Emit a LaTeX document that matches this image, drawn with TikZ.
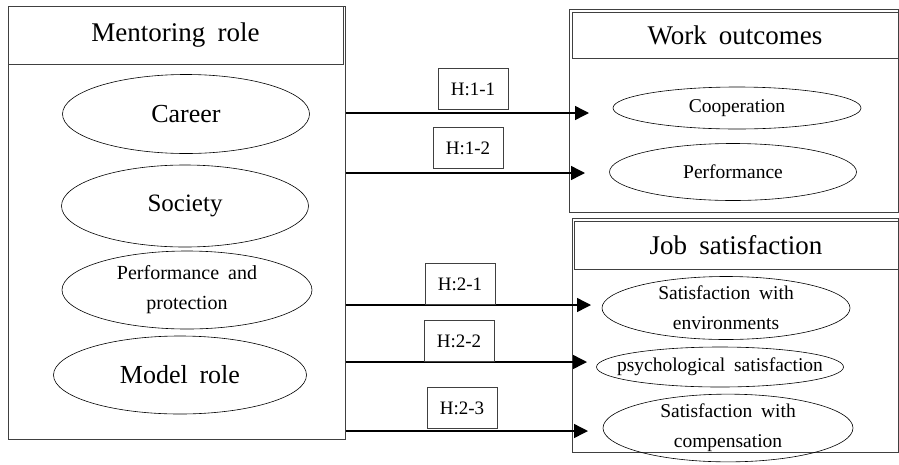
\documentclass[tikz,border=0pt]{standalone}
\usepackage{fontspec}
\setmainfont{Liberation Serif}
\usetikzlibrary{shapes.geometric,arrows.meta}
\newcommand{\widegap}{\spaceskip=0.45em\relax}

\begin{document}
\begin{tikzpicture}[x=1pt, y=-1pt, line width=0.6pt]
\tikzset{
	grpbox/.style={draw=black!75, line width=1pt, inner sep=0pt},
	grptitle/.style={draw=black!75, line width=1pt, inner sep=0pt, font=\fontsize{27}{30}\selectfont\widegap},
	rolenode/.style={draw, ellipse, inner sep=0pt, align=center, minimum width=247pt},
	outnode/.style={draw, ellipse, inner sep=0pt, align=center, minimum width=247pt, font=\fontsize{19.5}{30}\selectfont\widegap},
	hyplabel/.style={draw=black!75, line width=0.8pt, minimum width=70pt, minimum height=41pt, inner sep=0pt, font=\fontsize{19}{20}\selectfont},
	hyp/.style={-{Triangle[length=14pt, width=14pt]}, line width=1.4pt}
}
\useasboundingbox (0,0) rectangle (899,464);

% mentoring role
\node[grpbox, minimum width=337pt, minimum height=433pt] (mentor) at (176.5,222.5) {};
\node[grptitle, minimum width=335pt, minimum height=58pt] (mentortitle) at (175.5,35) {Mentoring role};

\node[rolenode, minimum height=79pt, font=\fontsize{26}{28}\selectfont] (career) at (186,114) {Career};
\node[rolenode, minimum height=82pt, font=\fontsize{25}{28}\selectfont] (society) at (185,206) {Society};
\node[rolenode, minimum width=250pt, minimum height=78pt, font=\fontsize{20}{30}\selectfont\widegap] (perfprot) at (187,290) {Performance and\\protection};
\node[rolenode, minimum width=253pt, minimum height=78pt, font=\fontsize{26}{28}\selectfont\widegap] (model) at (180,375) {Model role};

% work outcomes
\node[grpbox, minimum width=329pt, minimum height=203pt] (work) at (733.5,110.5) {};
\node[grptitle, minimum width=326pt, minimum height=46pt] (worktitle) at (735,35) {Work outcomes};

\node[outnode, minimum width=248pt, minimum height=42pt] (coop) at (737,108) {Cooperation};
\node[outnode, minimum height=57pt] (perf) at (733,172) {Performance};

% job satisfaction
\node[grpbox, minimum width=326pt, minimum height=234pt] (job) at (735,335) {};
\node[grptitle, minimum width=324pt, minimum height=48pt] (jobtitle) at (736,245) {Job satisfaction};

\node[outnode, minimum width=248pt, minimum height=63pt] (envsat) at (726,308) {Satisfaction with\\environments};
\node[outnode, minimum height=40pt, inner xsep=-18pt, inner ysep=-2pt] (psysat) at (720,367) {psychological satisfaction};
\node[outnode, minimum width=250pt, minimum height=64pt] (compsat) at (728,428) {Satisfaction with\\compensation};

% hypotheses
\coordinate (t11) at (589,113);
\coordinate (t12) at (585,173);
\coordinate (t21) at (591,305);
\coordinate (t22) at (587,362);
\coordinate (t23) at (588,431);

\draw[hyp] (mentor.east |- t11) -- (t11);
\draw[hyp] (mentor.east |- t12) -- (t12);
\draw[hyp] (mentor.east |- t21) -- (t21);
\draw[hyp] (mentor.east |- t22) -- (t22);
\draw[hyp] (mentor.east |- t23) -- (t23);

\node[hyplabel] (h11) at (473,89) {H:1-1};
\node[hyplabel] (h12) at (468,148) {H:1-2};
\node[hyplabel] (h21) at (460,284) {H:2-1};
\node[hyplabel] (h22) at (459,341) {H:2-2};
\node[hyplabel] (h23) at (462,408) {H:2-3};

\end{tikzpicture}
\end{document}
